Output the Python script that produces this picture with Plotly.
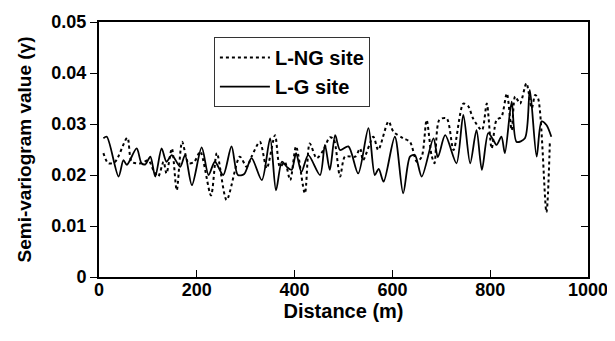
import plotly.graph_objects as go

# L-NG site (dotted)
ng_x = [9, 19, 33, 58, 67, 87, 101, 111, 121, 132, 138, 149, 159, 170, 183, 195, 207, 229,
        241, 261, 288, 302, 312, 329, 343, 360, 370, 380, 391, 403, 421, 431, 445, 459, 472,
        480, 493, 503, 524, 534, 540, 561, 571, 592, 602, 622, 636, 650, 660, 670, 680, 686,
        696, 711, 725, 745, 755, 765, 783, 793, 803, 813, 823, 834, 844, 851, 861, 874, 885,
        892, 898, 915, 922]
ng_y = [0.0243, 0.0223, 0.0226, 0.0273, 0.0226, 0.0223, 0.0229, 0.0210, 0.0197, 0.0226,
        0.0203, 0.0252, 0.0170, 0.0265, 0.0223, 0.0226, 0.0246, 0.0160, 0.0243, 0.0151,
        0.0236, 0.0216, 0.0236, 0.0265, 0.0213, 0.0278, 0.0216, 0.0225, 0.0190, 0.0256,
        0.0164, 0.0262, 0.0233, 0.0249, 0.0274, 0.0270, 0.0197, 0.0236, 0.0236, 0.0252,
        0.0229, 0.0275, 0.0249, 0.0305, 0.0285, 0.0272, 0.0265, 0.0226, 0.0236, 0.0308,
        0.0239, 0.0223, 0.0308, 0.0311, 0.0249, 0.0340, 0.0335, 0.0311, 0.0288, 0.0340,
        0.0252, 0.0308, 0.0314, 0.0360, 0.0288, 0.0354, 0.0340, 0.0380, 0.0331, 0.0357,
        0.0350, 0.0127, 0.0265]

# L-G site (solid)
g_x = [9, 16, 40, 50, 57, 77, 87, 95, 105, 115, 128, 138, 149, 166, 176, 190, 210, 224, 237,
       254, 271, 284, 297, 312, 333, 350, 362, 374, 384, 394, 403, 414, 428, 452, 462, 472,
       483, 493, 510, 530, 551, 564, 572, 582, 605, 622, 636, 646, 660, 684, 693, 708, 731,
       745, 759, 772, 783, 796, 806, 813, 823, 830, 844, 854, 871, 881, 895, 905, 915, 925]
g_y = [0.0272, 0.0275, 0.0197, 0.0229, 0.0220, 0.0252, 0.0223, 0.0221, 0.0236, 0.0197,
       0.0252, 0.0226, 0.0239, 0.0216, 0.0239, 0.0180, 0.0254, 0.0200, 0.0226, 0.0200,
       0.0256, 0.0200, 0.0202, 0.0233, 0.0190, 0.0272, 0.0170, 0.0226, 0.0216, 0.0210,
       0.0243, 0.0206, 0.0239, 0.0200, 0.0259, 0.0210, 0.0278, 0.0249, 0.0256, 0.0203,
       0.0292, 0.0200, 0.0212, 0.0187, 0.0275, 0.0164, 0.0236, 0.0239, 0.0197, 0.0272,
       0.0235, 0.0278, 0.0223, 0.0318, 0.0223, 0.0288, 0.0210, 0.0282, 0.0269, 0.0259,
       0.0275, 0.0243, 0.0344, 0.0265, 0.0272, 0.0367, 0.0236, 0.0305, 0.0298, 0.0275]

x_ticks = [0, 200, 400, 600, 800, 1000]
y_ticks = [0, 0.01, 0.02, 0.03, 0.04, 0.05]
y_tick_labels = ["0", "0.01", "0.02", "0.03", "0.04", "0.05"]

FONT = "Liberation Sans"

fig = go.Figure()
fig.add_trace(go.Scatter(x=ng_x, y=ng_y, mode="lines", name="<b>L-NG site</b>",
                         line=dict(color="black", width=2, dash="dot", shape="spline", smoothing=0.8)))
fig.add_trace(go.Scatter(x=g_x, y=g_y, mode="lines", name="<b>L-G site</b>", yaxis="y2",
                         line=dict(color="black", width=1.8, shape="spline", smoothing=0.8)))

# the page adds an 8px body margin, so the figure is 8px smaller and margins are shifted
fig.update_layout(
    template="none",
    width=607, height=333,
    margin=dict(l=91, r=27, t=14, b=64, pad=0),
    paper_bgcolor="white", plot_bgcolor="white",
    font=dict(family=FONT, size=18, color="black"),
    showlegend=True,
    legend=dict(x=0.235, y=0.941, xanchor="left", yanchor="top",
                bgcolor="white", bordercolor="#333", borderwidth=1,
                font=dict(family=FONT, size=20, color="black"),
                itemwidth=50, tracegroupgap=0, traceorder="normal"),
    xaxis=dict(range=[0, 1000], tickvals=x_ticks, ticktext=["<b>%d</b>" % t for t in x_ticks],
               ticks="inside", ticklen=7, tickwidth=1, tickcolor="black",
               ticklabelstandoff=-5,
               showline=True, linecolor="black", linewidth=2, mirror=True,
               showgrid=False, zeroline=False, automargin=False,
               tickfont=dict(family=FONT, size=18, color="black"),
               title=dict(text="<b>Distance (m)</b>", font=dict(family=FONT, size=20), standoff=2)),
    yaxis=dict(range=[0, 0.05], tickvals=y_ticks, ticktext=["<b>%s</b>" % t for t in y_tick_labels],
               ticks="outside", ticklen=7, tickwidth=1, tickcolor="black",
               showline=True, linecolor="black", linewidth=2, mirror=True,
               showgrid=False, zeroline=False, automargin=False,
               tickfont=dict(family=FONT, size=18, color="black"),
               title=dict(text="<b>Semi-variogram value (γ)</b>", font=dict(family=FONT, size=19), standoff=15)),
    yaxis2=dict(range=[0, 0.05], tickvals=y_ticks, overlaying="y", side="right", anchor="x",
                ticks="inside", ticklen=7, tickwidth=1, tickcolor="black", showticklabels=False,
                showline=False, showgrid=False, zeroline=False),
)

fig.write_html("out.html")
